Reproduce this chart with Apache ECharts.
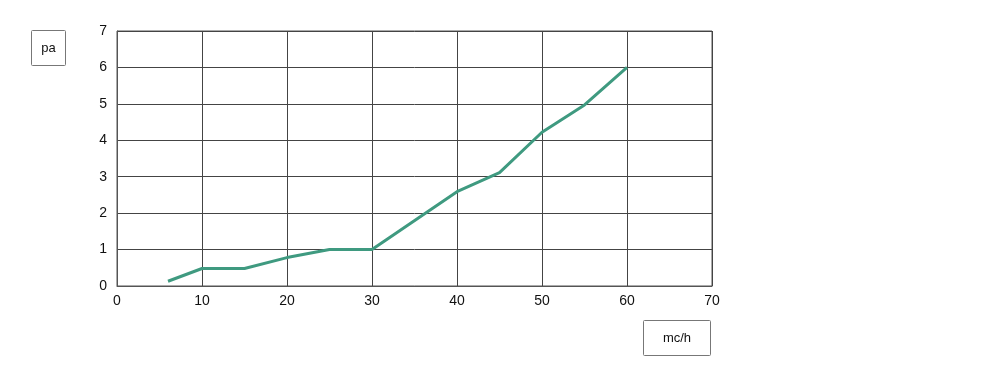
<!DOCTYPE html>
<html><head><meta charset="utf-8">
<script src="https://cdn.jsdelivr.net/npm/echarts@6/dist/echarts.min.js"></script>
<style>html,body{margin:0;padding:0;background:#fff}#c{width:1000px;height:380px}</style>
</head><body><div id="c"></div>
<script>
const flowX = [6, 10, 15, 20, 25, 30, 40, 45, 50, 55, 60];
const pressureY = [0.13, 0.48, 0.48, 0.78, 1.0, 1.0, 2.59, 3.11, 4.22, 4.97, 6.0];
const yUnit = 'pa';
const xUnit = 'mc/h';

const chart = echarts.init(document.getElementById('c'), null, {renderer: 'canvas'});
const font = 'Liberation Sans, Arial, sans-serif';
chart.setOption({
  animation: false,
  backgroundColor: '#fff',
  grid: {left: 117, right: 288, top: 31, bottom: 94, show: true, borderColor: '#555', borderWidth: 1},
  xAxis: {
    type: 'value', min: 0, max: 70, interval: 10,
    axisLine: {show: true, lineStyle: {color: '#555', width: 1}},
    axisTick: {show: false},
    axisLabel: {color: '#111', fontSize: 14, fontFamily: font, margin: 8},
    splitLine: {show: true, lineStyle: {color: '#444', width: 1}}
  },
  yAxis: {
    type: 'value', min: 0, max: 7, interval: 1,
    axisLine: {show: true, lineStyle: {color: '#555', width: 1}},
    axisTick: {show: false},
    axisLabel: {color: '#111', fontSize: 14, fontFamily: font, margin: 10},
    splitLine: {show: true, lineStyle: {color: '#444', width: 1}}
  },
  graphic: [
    {type: 'rect', shape: {x: 31.5, y: 30.5, width: 34, height: 35, r: 1}, style: {fill: '#fff', stroke: '#777', lineWidth: 1}},
    {type: 'text', style: {text: yUnit, x: 48.5, y: 48, align: 'center', verticalAlign: 'middle', fill: '#111', font: '13px ' + font}},
    {type: 'rect', shape: {x: 643.5, y: 320.5, width: 67, height: 35, r: 1}, style: {fill: '#fff', stroke: '#777', lineWidth: 1}},
    {type: 'text', style: {text: xUnit, x: 677, y: 338, align: 'center', verticalAlign: 'middle', fill: '#111', font: '13px ' + font}}
  ],
  series: [{
    type: 'line',
    data: flowX.map((x, i) => [x, pressureY[i]]),
    showSymbol: false,
    lineStyle: {color: '#3f9a80', width: 3},
    itemStyle: {color: '#3f9a80'}
  }]
});
</script></body></html>
